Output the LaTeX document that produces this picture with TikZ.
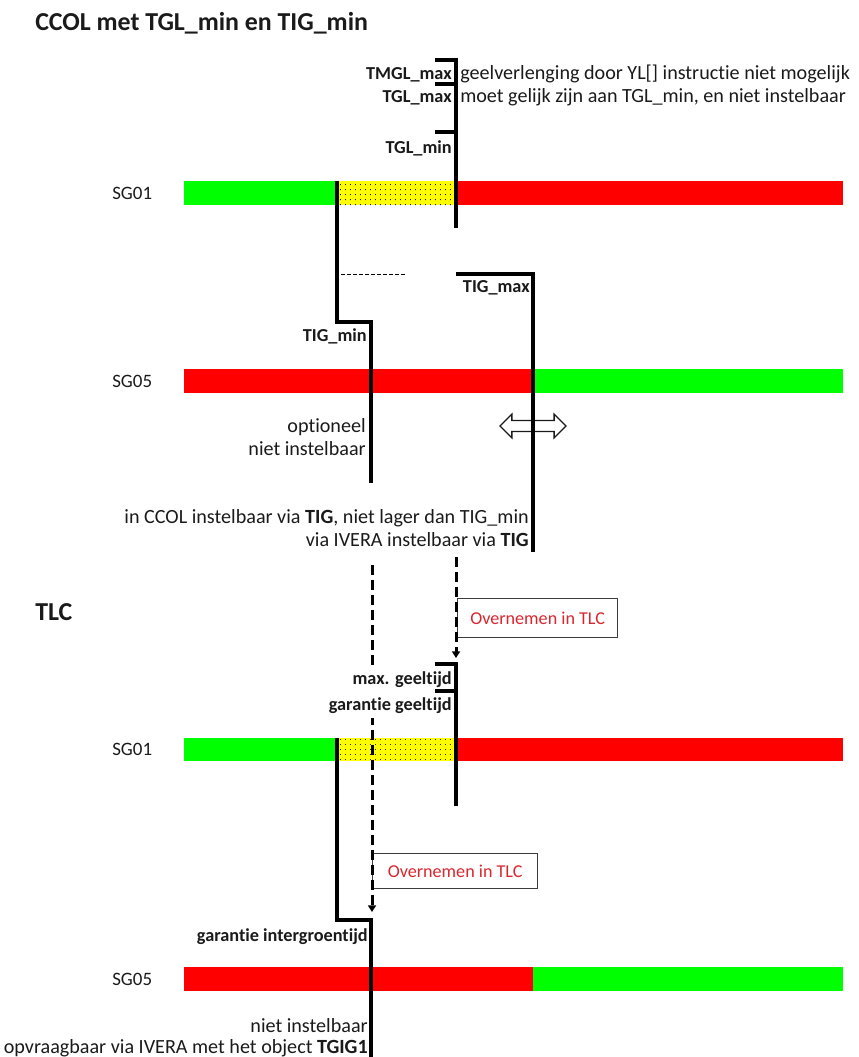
\documentclass[tikz,border=0pt]{standalone}
\usepackage{fontspec}
\setmainfont[Ligatures=NoCommon]{Carlito}
\usepackage{xcolor}
\usepackage{tikz}
\usetikzlibrary{positioning,arrows.meta,shapes.arrows,patterns.meta}
\definecolor{sgreen}{HTML}{00FF00}
\definecolor{sred}{HTML}{FF0000}
\definecolor{syellow}{HTML}{FFFF00}
\definecolor{ink}{HTML}{1A1A1A}
\definecolor{tlcred}{HTML}{D9262E}
\tikzset{
  hdr/.style={font=\fontsize{19.4}{23}\selectfont\bfseries,text=ink,inner sep=0pt,anchor=base west},
  sg/.style={font=\fontsize{14.2}{17}\selectfont,text=ink,inner sep=0pt,anchor=base west},
  lbl/.style={font=\fontsize{13.7}{16}\selectfont\bfseries,text=ink,inner sep=0pt,anchor=base east},
  note/.style={font=\fontsize{15.1}{18}\selectfont,text=ink,inner sep=0pt,anchor=base east},
  tl/.style={draw=black,line width=3pt},
  yl/.style={fill=syellow,postaction={pattern={Dots[radius=.45pt,distance=4pt]},pattern color=black}},
  take/.style={draw=ink!85,line width=1pt,text=tlcred,font=\fontsize{13.6}{16}\selectfont,
    inner sep=0pt,anchor=north west},
  fl/.style={draw=black,line width=2.25pt,dash pattern=on 7.5pt off 3.75pt,
    -{Triangle[length=5pt,width=6pt]}},
}
\begin{document}
\begin{tikzpicture}[x=0.75pt,y=-0.75pt]
  \useasboundingbox (0,0) rectangle (859,1057);
  \node[hdr] (title) at (35,30) {CCOL met TGL\_min en TIG\_min};
  \fill[sgreen] (184,181) rectangle (337,205);
  \fill[yl] (337,181) rectangle (456,205);
  \fill[sred] (456,181) rectangle (843,205);
  \fill[sred] (184,369) rectangle (533,393);
  \fill[sgreen] (533,369) rectangle (843,393);
  \node[sg] (sgA) at (112,199) {SG01};
  \node[sg] (sgB) at (112,387) {SG05};
  \draw[tl] (435,60) -- (456,60) -- (456,228);
  \draw[tl] (435,84) -- (456,84);
  \draw[tl] (435,132) -- (456,132);
  \node[lbl] (tmgl) at (452,79) {TMGL\_max};
  \node[lbl] (tglmax) at (452,102) {TGL\_max};
  \node[lbl] (tglmin) at (452,153) {TGL\_min};
  \node[note,anchor=base west] (tmglnote) at (460,79) {geelverlenging door YL[] instructie niet mogelijk};
  \node[note,anchor=base west] (tglnote) at (460,102) {moet gelijk zijn aan TGL\_min, en niet instelbaar};
  \draw[tl] (337,181) -- (337,322) -- (371,322) -- (371,483);
  \draw[black,line width=.75pt,dash pattern=on 3pt off 1.5pt] (341,274) -- (407,274);
  \node[double arrow,draw=ink,line width=1pt,fill=white,minimum height=49.5pt,
    inner sep=3.6pt,double arrow head extend=4.8pt] (dbl) at (533,426) {};
  \draw[tl] (456,274) -- (533,274) -- (533,552);
  \node[lbl] (tigmax) at (530,292) {TIG\_max};
  \node[lbl] (tigmin) at (367,341) {TIG\_min};
  \node[note] (opt) at (366,432) {optioneel};
  \node[note] (nietA) at (366,455) {niet instelbaar};
  \node[note] (ccol) at (529,523) {in CCOL instelbaar via \textbf{TIG}, niet lager dan TIG\_min};
  \node[note] (ivera) at (529,546) {via IVERA instelbaar via \textbf{TIG}};
  \node[hdr] (tlc) at (35,620) {TLC};
  \fill[sgreen] (184,738) rectangle (337,761);
  \fill[yl] (337,738) rectangle (456,761);
  \fill[sred] (456,738) rectangle (843,761);
  \fill[sred] (184,967) rectangle (533,991);
  \fill[sgreen] (533,967) rectangle (843,991);
  \node[sg] (sgC) at (112,755) {SG01};
  \node[sg] (sgD) at (112,985) {SG05};
  \node[take,minimum width=120pt,minimum height=29.25pt] (boxA) at (457,598) {Overnemen in TLC};
  \node[take,minimum width=123.75pt,minimum height=26.25pt] (boxB) at (372,853) {Overnemen in TLC};
  \coordinate (srcA) at (456,557);
  \coordinate (dstA) at (456,658);
  \coordinate (srcB) at (372,565);
  \coordinate (dstB) at (372,912);
  \draw[fl] (srcA) -- (dstA);
  \draw[fl] (srcB) -- (dstB);
  \node[lbl,fill=white,inner ysep=4pt] (maxgl) at (452,684) {max. geeltijd};
  \node[lbl,fill=white,inner ysep=4pt] (gargl) at (452,710) {garantie geeltijd};
  \draw[tl] (435,664) -- (456,664) -- (456,806);
  \draw[tl] (435,691) -- (456,691);
  \draw[tl] (337,738) -- (337,920) -- (371,920) -- (371,1060);
  \node[lbl] (garig) at (368,941) {garantie intergroentijd};
  \node[note] (nietB) at (368,1032) {niet instelbaar};
  \node[note] (opvr) at (368,1053) {opvraagbaar via IVERA met het object \textbf{TGIG1}};
\end{tikzpicture}
\end{document}
